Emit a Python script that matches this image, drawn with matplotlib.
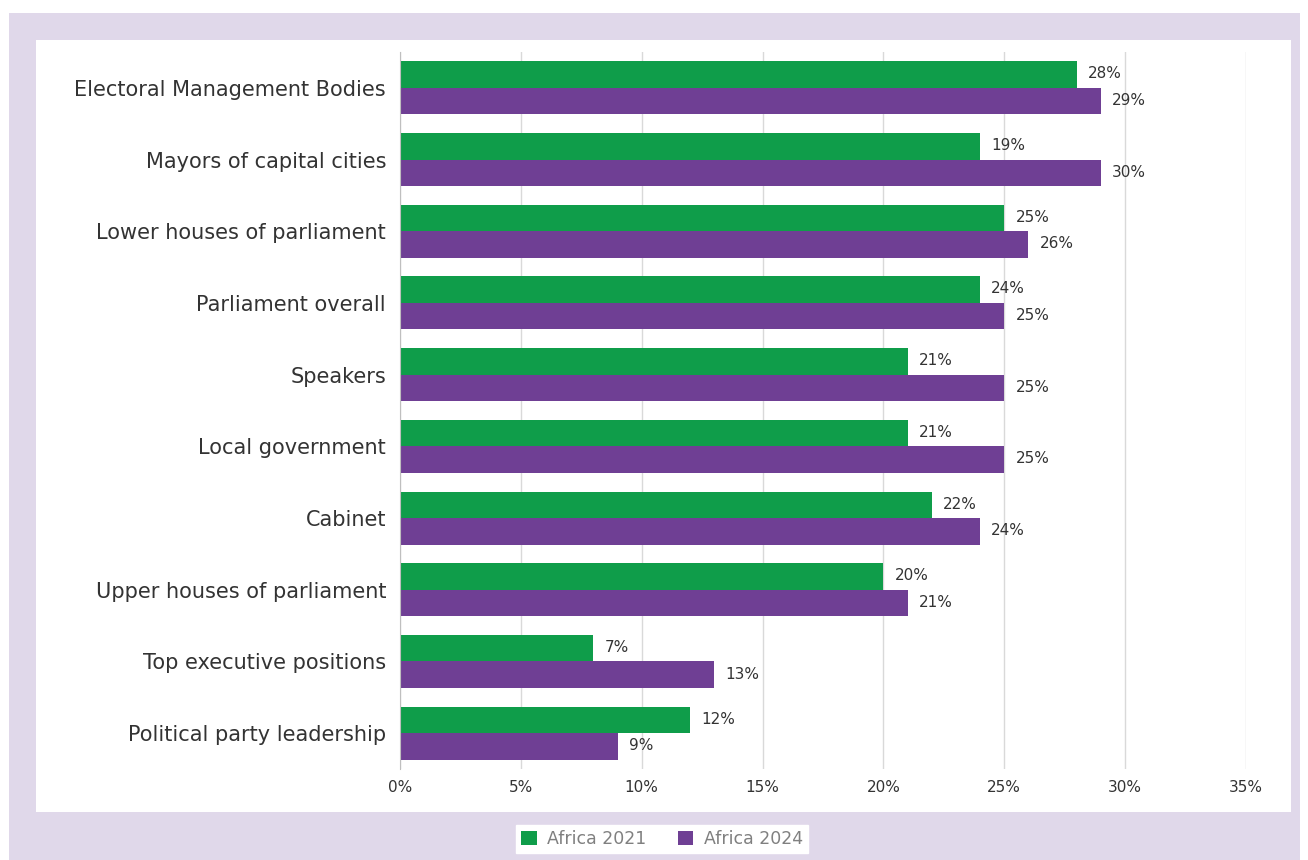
import matplotlib
matplotlib.use("Agg")
import matplotlib.pyplot as plt
from matplotlib.patches import Rectangle
import numpy as np

categories = ["Electoral Management Bodies", "Mayors of capital cities", "Lower houses of parliament",
              "Parliament overall", "Speakers", "Local government", "Cabinet",
              "Upper houses of parliament", "Top executive positions", "Political party leadership"]
values_2021 = [28, 24, 25, 24, 21, 21, 22, 20, 8, 12]
values_2024 = [29, 29, 26, 25, 25, 25, 24, 21, 13, 9]
labels_2021 = ["28%", "19%", "25%", "24%", "21%", "21%", "22%", "20%", "7%", "12%"]
labels_2024 = ["29%", "30%", "26%", "25%", "25%", "25%", "24%", "21%", "13%", "9%"]
xticks = [0, 5, 10, 15, 20, 25, 30, 35]
series_names = ["Africa 2021", "Africa 2024"]

GREEN = "#0F9D4A"
PURPLE = "#6F3F94"
TXT = "#333333"
plt.rcParams['font.family'] = ['DejaVu Sans']

W, H = 1308, 860
fig = plt.figure(figsize=(W/100, H/100), dpi=100)
fig.patch.set_facecolor("white")
fig.patches.append(Rectangle((9/W, 0), (1300-9)/W, (860-13)/H, transform=fig.transFigure,
                             facecolor="#E0D8EA", edgecolor="none", zorder=-2))
fig.patches.append(Rectangle((36/W, 1-812/H), (1291-36)/W, (812-40)/H, transform=fig.transFigure,
                             facecolor="white", edgecolor="none", zorder=-1))

ax = fig.add_axes([400/W, 1-769/H, (1246-400)/W, (769-52)/H])
ax.set_facecolor("none")
n = len(categories)
y = np.arange(n)
h = 0.37
ax.barh(y - h/2, values_2021, height=h, color=GREEN, label=series_names[0], zorder=3)
ax.barh(y + h/2, values_2024, height=h, color=PURPLE, label=series_names[1], zorder=3)
for yi, v, l in zip(y, values_2021, labels_2021):
    ax.annotate(l, (v, yi - h/2), xytext=(8, 0.5), textcoords="offset points", va="center", ha="left",
                fontsize=11, color=TXT)
for yi, v, l in zip(y, values_2024, labels_2024):
    ax.annotate(l, (v, yi + h/2), xytext=(8, 0.5), textcoords="offset points", va="center", ha="left",
                fontsize=11, color=TXT)

ax.set_ylim(n - 0.5, -0.5)
ax.set_xlim(0, 35)
ax.set_yticks(y)
ax.set_yticklabels(categories, fontsize=15, color=TXT)
for t in ax.get_yticklabels():
    t.set_y(t.get_position()[1])
ax.set_xticks(xticks)
ax.set_xticklabels([f"{t}%" for t in xticks], fontsize=11, color=TXT)
ax.tick_params(axis="both", length=0)
ax.tick_params(axis="y", pad=10)
ax.tick_params(axis="x", pad=8)
ax.grid(axis="x", color="#D9D9D9", linewidth=1, zorder=0)
for s in ["top", "right", "bottom"]:
    ax.spines[s].set_visible(False)
ax.spines["left"].set_color("#BFBFBF")
ax.spines["left"].set_zorder(4)

leg = fig.legend(loc="center", bbox_to_anchor=(662/W, 1-839/H), ncol=2, frameon=True,
                 fancybox=False, edgecolor="white", facecolor="white", framealpha=1,
                 fontsize=12.5, handlelength=0.9, handleheight=0.9, columnspacing=1.8,
                 handletextpad=0.6, borderpad=0.3)
for t in leg.get_texts():
    t.set_color("#808080")

fig.savefig("out.png", dpi=100)
